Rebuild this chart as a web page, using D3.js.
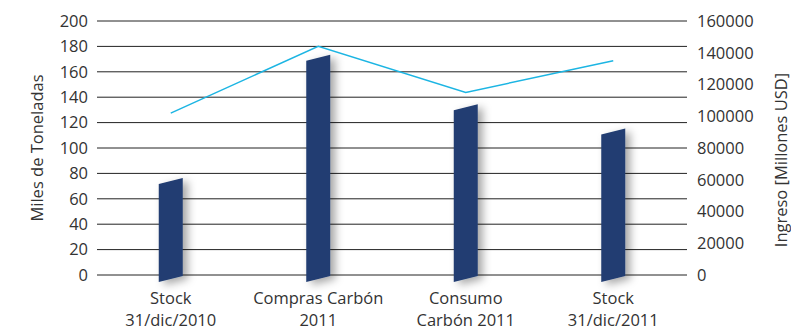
<!DOCTYPE html>
<html>
<head>
<meta charset="utf-8">
<script src="https://cdn.jsdelivr.net/npm/d3@7"></script>
<style>
  body { margin: 0; background: #fff; }
  svg text { font-family: "Open Sans", sans-serif; fill: #333; }
</style>
</head>
<body>
<div class="chart"></div>
<script>
// data
var categories = [["Stock", "31/dic/2010"], ["Compras Carbón", "2011"], ["Consumo", "Carbón 2011"], ["Stock", "31/dic/2011"]];
var toneladas = [74, 171, 132, 113];
var ingreso = [102000, 144000, 115000, 135000];
var leftTicks = [0, 20, 40, 60, 80, 100, 120, 140, 160, 180, 200];
var rightTicks = [0, 20000, 40000, 60000, 80000, 100000, 120000, 140000, 160000];

var width = 791, height = 331;
var margin = {top: 21, right: 104, bottom: 56, left: 97};

var svg = d3.select(".chart").append("svg")
  .attr("width", width)
  .attr("height", height);

var defs = svg.append("defs");
var shadow = defs.append("filter").attr("id", "shadow")
  .attr("x", "-50%").attr("y", "-20%").attr("width", "250%").attr("height", "140%");
shadow.append("feDropShadow")
  .attr("dx", 5).attr("dy", 3).attr("stdDeviation", 4)
  .attr("flood-color", "#000").attr("flood-opacity", 0.35);

var x = d3.scaleBand()
  .domain(d3.range(categories.length))
  .range([margin.left, width - margin.right]);

var y = d3.scaleLinear().domain([0, 200]).range([height - margin.bottom, margin.top]);
var y2 = d3.scaleLinear().domain([0, 160000]).range([height - margin.bottom, margin.top]);

// gridlines
svg.append("g")
  .selectAll("line")
  .data(leftTicks)
  .enter().append("line")
  .attr("x1", margin.left)
  .attr("x2", width - margin.right)
  .attr("y1", function(d) { return y(d); })
  .attr("y2", function(d) { return y(d); })
  .style("stroke", "#222")
  .style("stroke-width", 1);

// left axis labels
svg.append("g")
  .selectAll("text")
  .data(leftTicks)
  .enter().append("text")
  .attr("x", 88)
  .attr("y", function(d) { return y(d); })
  .attr("dy", "0.35em")
  .attr("text-anchor", "end")
  .style("font-size", "16.5px")
  .text(function(d) { return d; });

// right axis labels
svg.append("g")
  .selectAll("text")
  .data(rightTicks)
  .enter().append("text")
  .attr("x", 697)
  .attr("y", function(d) { return y2(d); })
  .attr("dy", "0.35em")
  .style("font-size", "16.5px")
  .text(function(d) { return d; });

// axis titles
svg.append("text")
  .attr("transform", "translate(43," + (margin.top + (height - margin.bottom - margin.top) / 2) + ") rotate(-90)")
  .attr("text-anchor", "middle")
  .style("font-size", "16.5px")
  .text("Miles de Toneladas");

svg.append("text")
  .attr("transform", "translate(787,160) rotate(-90)")
  .attr("text-anchor", "middle")
  .style("font-size", "16.5px")
  .text("Ingreso [Millones USD]");

// slanted bars
var barW = 24, skew = 6;
svg.append("g")
  .selectAll("path")
  .data(toneladas)
  .enter().append("path")
  .attr("d", function(d, i) {
    var cx = x(i) + x.bandwidth() / 2;
    var l = cx - barW / 2, r = cx + barW / 2;
    var top = y(d), bot = y(0);
    return "M" + l + "," + (top + skew / 2) +
      "L" + r + "," + (top - skew / 2) +
      "L" + r + "," + (bot + 1) +
      "L" + l + "," + (bot + 1 + skew) + "Z";
  })
  .style("fill", "#203d72")
  .attr("filter", "url(#shadow)");

// line on right axis
var line = d3.line()
  .x(function(d, i) { return x(i) + x.bandwidth() / 2; })
  .y(function(d) { return y2(d); });

svg.append("path")
  .datum(ingreso)
  .attr("d", line)
  .style("fill", "none")
  .style("stroke", "#1cb5e3")
  .style("stroke-width", 1.5);

// category labels
var cat = svg.append("g")
  .selectAll("text")
  .data(categories)
  .enter().append("text")
  .attr("x", function(d, i) { return x(i) + x.bandwidth() / 2; })
  .attr("y", 304)
  .attr("text-anchor", "middle")
  .style("font-size", "16.5px");

cat.append("tspan")
  .attr("x", function(d, i) { return x(i) + x.bandwidth() / 2; })
  .text(function(d) { return d[0]; });
cat.append("tspan")
  .attr("x", function(d, i) { return x(i) + x.bandwidth() / 2; })
  .attr("dy", 22)
  .text(function(d) { return d[1]; });
</script>
</body>
</html>
